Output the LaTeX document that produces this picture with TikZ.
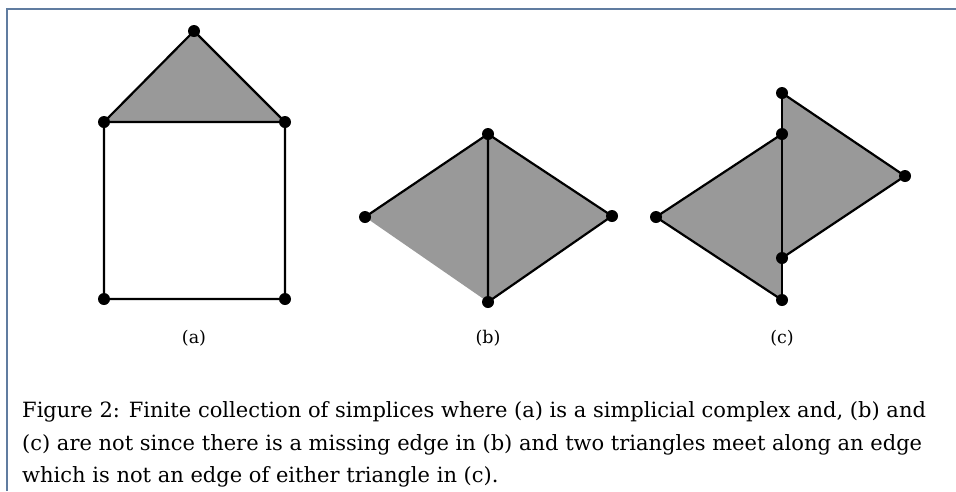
\documentclass[tikz,border=0pt]{standalone}
\usepackage{fontspec}
\setmainfont{DejaVu Serif}
\definecolor{framecol}{RGB}{96,124,160}
\definecolor{facegray}{RGB}{153,153,153}
\tikzset{
  edge/.style={line width=2.2pt,line join=round},
  face/.style={fill=facegray},
  sublabel/.style={font=\fontsize{17.5}{21}\selectfont},
  capline/.style={anchor=base west,inner sep=0pt,font=\fontsize{21}{25}\selectfont}
}

\begin{document}
\begin{tikzpicture}[x=1pt,y=-1pt]
    \useasboundingbox (0,0) rectangle (956,491);
    \draw[framecol,line width=2pt] (7,491) -- (7,9) -- (956,9);

    \coordinate (a1) at (194,31);
    \coordinate (a2) at (104,122);
    \coordinate (a3) at (285,122);
    \coordinate (a4) at (104,299);
    \coordinate (a5) at (285,299);
    \fill[face] (a1) -- (a2) -- (a3) -- cycle;
    \draw[edge] (a2) -- (a1) -- (a3) -- (a2) -- (a4) -- (a5) -- (a3);

    \coordinate (b1) at (365,217);
    \coordinate (b2) at (488,134);
    \coordinate (b3) at (612,216);
    \coordinate (b4) at (488,302);
    \fill[face] (b1) -- (b2) -- (b3) -- (b4) -- cycle;
    \draw[edge] (b1) -- (b2) -- (b3) -- (b4) -- (b2);

    \coordinate (c1) at (782,93);
    \coordinate (c2) at (782,134);
    \coordinate (c3) at (905,176);
    \coordinate (c4) at (656,217);
    \coordinate (c5) at (782,258);
    \coordinate (c6) at (782,300);
    \fill[face] (c4) -- (c2) -- (c6) -- cycle;
    \fill[face] (c1) -- (c3) -- (c5) -- cycle;
    \draw[edge] (c2) -- (c4) -- (c6);
    \draw[edge] (c1) -- (c3) -- (c5);
    \draw[edge] (c1) -- (c6);

    \foreach \v in {a1,a2,a3,a4,a5,b1,b2,b3,b4,c1,c2,c3,c4,c5,c6}
        \fill (\v) circle (6pt);

    \node[sublabel] (la) at (194,338) {(a)};
    \node[sublabel] (lb) at (488,338) {(b)};
    \node[sublabel] (lc) at (782,338) {(c)};

    \node[capline] (cap1) at (22,417) {Figure 2: Finite collection of simplices where (a) is a simplicial complex and, (b) and};
    \node[capline] (cap2) at (22,450) {(c) are not since there is a missing edge in (b) and two triangles meet along an edge};
    \node[capline] (cap3) at (22,482) {which is not an edge of either triangle in (c).};
\end{tikzpicture}
\end{document}
